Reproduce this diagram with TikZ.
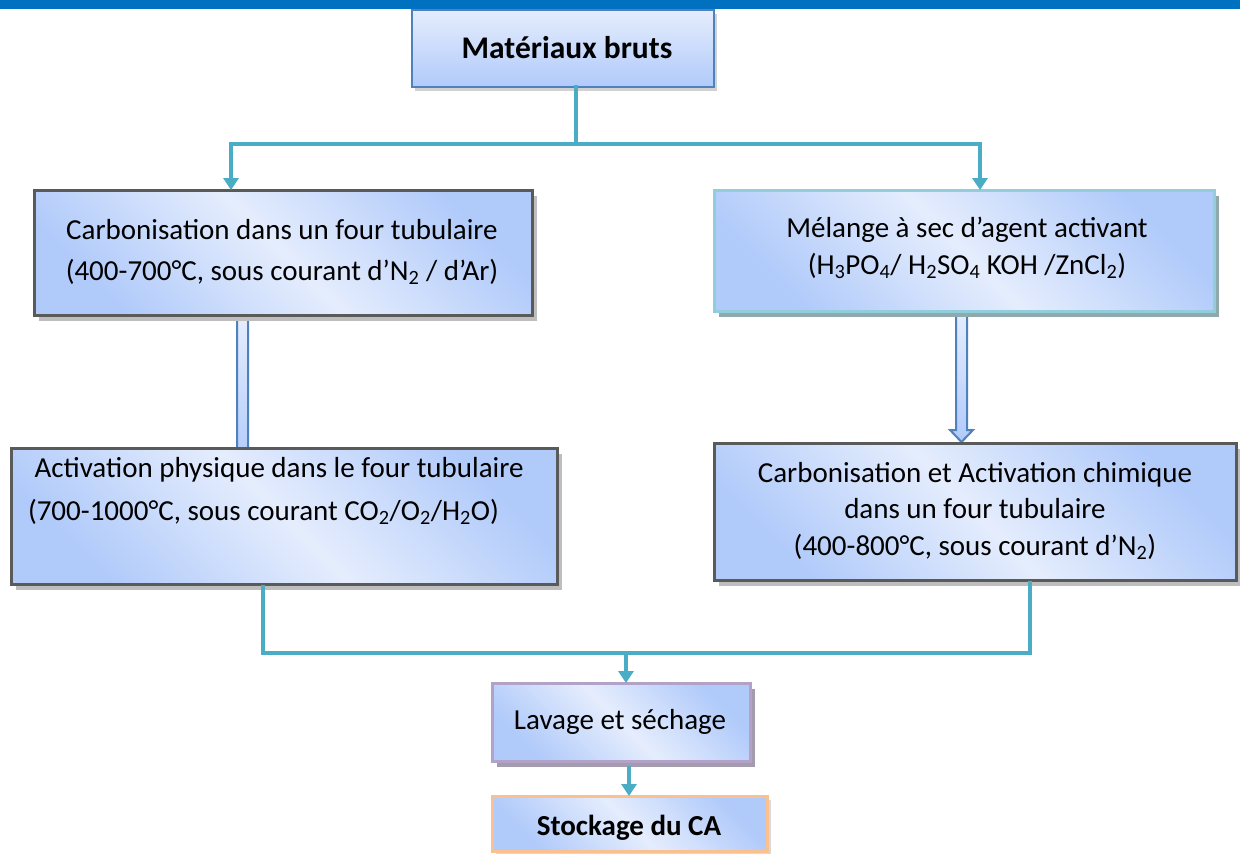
\documentclass[tikz,border=0pt]{standalone}
\usepackage{fontspec}
\setmainfont{Carlito}
\usetikzlibrary{arrows.meta,shadows,calc}
\definecolor{topbar}{HTML}{0070C0}
\definecolor{conn}{HTML}{4BACC6}
\definecolor{gl}{HTML}{E5EDFD}
\definecolor{gd}{HTML}{B0CAFA}
\definecolor{bgray}{HTML}{5A5A5A}
\definecolor{sgray}{HTML}{BEBEBE}
\definecolor{bteal}{HTML}{92CDDC}
\definecolor{steal}{HTML}{8FA9AC}
\definecolor{bblue}{HTML}{4F81BD}
\definecolor{bpurple}{HTML}{B3A2C7}
\definecolor{spurple}{HTML}{A59BAE}
\definecolor{borange}{HTML}{FAC090}
\begin{document}
\begin{tikzpicture}[x=1pt,y=-1pt,
  box/.style={rectangle, inner sep=0pt, outer sep=0pt, line width=3pt,
    top color=gd, bottom color=gd, middle color=gl, shading angle=-45},
  grayshadow/.style={general shadow={fill=sgray, shadow xshift=5pt, shadow yshift=-6pt}},
  tealshadow/.style={general shadow={fill=steal, shadow xshift=5pt, shadow yshift=-6pt}},
  purpshadow/.style={general shadow={fill=spurple, shadow xshift=5pt, shadow yshift=-6pt}},
  softshadow/.style={general shadow={fill=black!18, shadow xshift=3pt, shadow yshift=-4pt}},
  barrow/.style={draw=bblue, line width=2pt, top color=gl, bottom color=gd, line join=miter},
  conn/.style={draw=conn, line width=4.5pt, line cap=rect, line join=miter},
  tip/.style={-{Triangle[width=15pt,length=12pt]}},
  txt/.style={inner sep=0pt, outer sep=0pt, anchor=base, text=black}
]
\useasboundingbox (0,0) rectangle (1240,854);
\fill[topbar] (0,0) rectangle (1240,8.7);

% block arrows (drawn first, head of the left one hidden under the box)
\coordinate (la1) at (242.5,317);
\coordinate (la2) at (242.5,467);
\draw[barrow] ($(la1)+(-5.5,0)$) -- ($(la1)+(5.5,0)$) -- ($(la2)+(5.5,-12)$) -- ($(la2)+(11.5,-12)$)
  -- (la2) -- ($(la2)+(-11.5,-12)$) -- ($(la2)+(-5.5,-12)$) -- cycle;
\coordinate (ra1) at (961.5,313);
\coordinate (ra2) at (961.5,442);
\draw[barrow] ($(ra1)+(-5.5,0)$) -- ($(ra1)+(5.5,0)$) -- ($(ra2)+(5.5,-12)$) -- ($(ra2)+(11.5,-12)$)
  -- (ra2) -- ($(ra2)+(-11.5,-12)$) -- ($(ra2)+(-5.5,-12)$) -- cycle;

% boxes
\node[box, draw=bblue, line width=2pt, top color=gl, bottom color=gd, shading angle=0, softshadow,
  minimum width=302pt, minimum height=77pt] (top) at (563,48.5) {};
\node[box, draw=bgray, grayshadow, minimum width=498pt, minimum height=125pt] (lb1) at (283,252.5) {};
\node[box, draw=bteal, tealshadow, minimum width=500pt, minimum height=121pt] (rb1) at (964,250.5) {};
\node[box, draw=bgray, grayshadow, minimum width=546pt, minimum height=136pt] (lb2) at (284,516) {};
\node[box, draw=bgray, grayshadow, minimum width=522pt, minimum height=137pt] (rb2) at (975,511.5) {};
\node[box, draw=bpurple, purpshadow, minimum width=258pt, minimum height=78pt] (lav) at (621,722) {};
\node[box, draw=borange, general shadow={fill=black!15, shadow xshift=4pt, shadow yshift=-4pt},
  minimum width=275pt, minimum height=55pt] (sto) at (629.5,823.5) {};

% texts
\node[txt, font=\fontsize{31.5}{38}\selectfont\bfseries] (topt) at (567,58) {Matériaux bruts};
\node[txt, font=\fontsize{29}{41}\selectfont] (lb1t) at (282,239)
  {\begin{tabular}[t]{@{}c@{}}Carbonisation dans un four tubulaire\\(400-700°C, sous courant d’N\textsubscript{2} / d’Ar)\end{tabular}};
\node[txt, font=\fontsize{29}{37}\selectfont] (rb1t) at (967,237)
  {\begin{tabular}[t]{@{}c@{}}Mélange à sec d’agent activant\\(H\textsubscript{3}PO\textsubscript{4}/ H\textsubscript{2}SO\textsubscript{4} KOH /ZnCl\textsubscript{2})\end{tabular}};
\node[txt, anchor=base west, font=\fontsize{29}{43}\selectfont] (lb2t) at (28,477)
  {\begin{tabular}[t]{@{}l@{}}\ Activation physique dans le four tubulaire\\(700-1000°C, sous courant CO\textsubscript{2}/O\textsubscript{2}/H\textsubscript{2}O)\end{tabular}};
\node[txt, font=\fontsize{29}{36.5}\selectfont] (rb2t) at (975,482)
  {\begin{tabular}[t]{@{}c@{}}Carbonisation et Activation chimique\\dans un four tubulaire\\(400-800°C, sous courant d’N\textsubscript{2})\end{tabular}};
\node[txt, font=\fontsize{29}{36}\selectfont] (lavt) at (620,729) {Lavage et séchage};
\node[txt, font=\fontsize{29}{36}\selectfont\bfseries] (stot) at (629,835) {Stockage du CA};

% connectors
\coordinate (j0) at (576,144);
\coordinate (jl) at (231,144);
\coordinate (jr) at (980,144);
\draw[conn] (top.south -| j0) -- (j0);
\draw[conn, {Triangle[width=15pt,length=12pt]}-{Triangle[width=15pt,length=12pt]}]
  (jl |- lb1.north) -- (jl) -- (jr) -- (jr |- rb1.north);
\coordinate (kl) at (263,653);
\coordinate (kr) at (1030,653);
\coordinate (km) at (626,653);
\draw[conn, shorten <=3pt, shorten >=3pt] (lb2.south -| kl) -- (kl) -- (kr) -- (rb2.south -| kr);
\draw[conn, tip] (km) -- (km |- lav.north);
\coordinate (m1) at (629,761);
\draw[conn, tip, shorten <=7pt] (m1) -- (m1 |- sto.north);
\end{tikzpicture}
\end{document}
